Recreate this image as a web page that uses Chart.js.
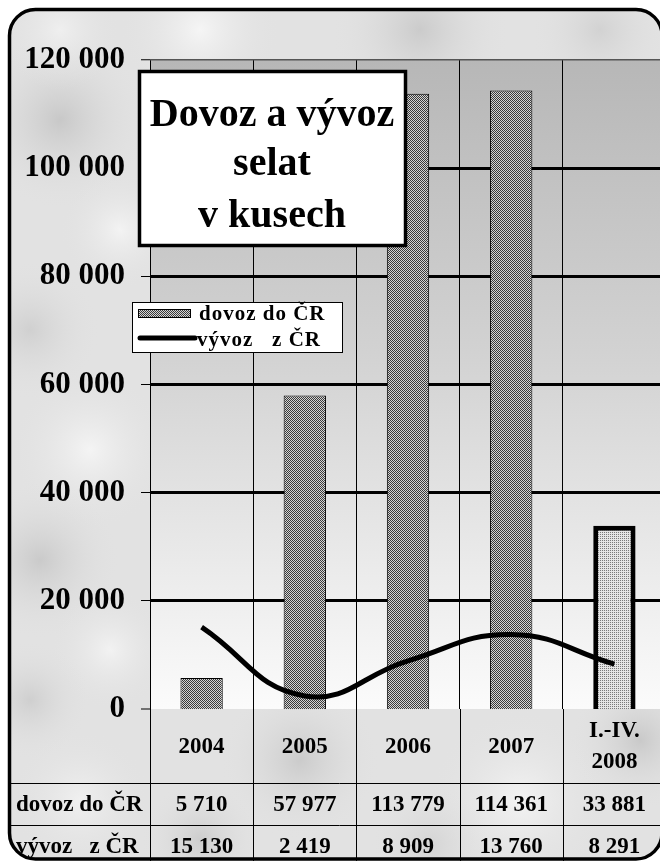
<!DOCTYPE html>
<html><head><meta charset="utf-8">
<script src="https://cdn.jsdelivr.net/npm/chart.js@4"></script>
<style>
html,body{margin:0;padding:0;overflow:hidden;background:#fff;width:660px;height:861px}
#wrap{position:absolute;left:0;top:0;width:670px;height:861px}
</style></head>
<body><div id="wrap"><canvas id="c" width="670" height="861"></canvas></div>
<script>
// ---- data ----
const categories = ['2004', '2005', '2006', '2007', ['I.-IV.', '2008']];
const dovoz = [5710, 57977, 113779, 114361, 33881];
const vyvoz = [15130, 2419, 8909, 13760, 8291];
const seriesNames = ['dovoz do ČR', 'vývoz   z ČR'];
const legendNames = ['dovoz do ČR', 'vývoz   z ČR'];
const titleLines = ['Dovoz a vývoz', 'selat', 'v kusech'];
const yMin = 0, yMax = 120000, yStep = 20000;

const fmt = n => String(n).replace(/\B(?=(\d{3})+(?!\d))/g, ' ');
const SERIF = "'Liberation Serif', 'Times New Roman', serif";

function makePattern(a, b, c, d) {
  const p = document.createElement('canvas'); p.width = 2; p.height = 2;
  const x = p.getContext('2d');
  x.fillStyle = a; x.fillRect(0, 0, 1, 1);
  x.fillStyle = b; x.fillRect(1, 0, 1, 1);
  x.fillStyle = c; x.fillRect(0, 1, 1, 1);
  x.fillStyle = d; x.fillRect(1, 1, 1, 1);
  return document.getElementById('c').getContext('2d').createPattern(p, 'repeat');
}
const patDark = makePattern('#3a3a3a', '#d4d4d4', '#d4d4d4', '#3a3a3a');
const patLight = makePattern('#7a7a7a', '#e2e2e2', '#e6e6e6', '#e6e6e6');

function roundRectPath(ctx, x0, y0, x1, y1, r) {
  ctx.beginPath();
  ctx.moveTo(x0 + r, y0);
  ctx.lineTo(x1 - r, y0); ctx.arcTo(x1, y0, x1, y0 + r, r);
  ctx.lineTo(x1, y1 - r); ctx.arcTo(x1, y1, x1 - r, y1, r);
  ctx.lineTo(x0 + r, y1); ctx.arcTo(x0, y1, x0, y1 - r, r);
  ctx.lineTo(x0, y0 + r); ctx.arcTo(x0, y0, x0 + r, y0, r);
  ctx.closePath();
}

// decorative marble blotches (x, y, radius, color)
const marble = [
  [60, 120, 90, '#c8c8c8'], [30, 330, 70, '#d0d0d0'], [90, 450, 80, '#f4f4f4'],
  [40, 560, 80, '#cacaca'], [110, 650, 60, '#f2f2f2'], [30, 700, 60, '#cfcfcf'],
  [200, 30, 80, '#f5f5f5'], [420, 30, 90, '#cbcbcb'], [600, 30, 70, '#d2d2d2'],
  [300, 760, 80, '#cbcbcb'], [520, 800, 90, '#f3f3f3'], [640, 740, 70, '#c9c9c9'],
  [80, 800, 70, '#f0f0f0'], [200, 840, 60, '#cdcdcd'], [430, 845, 60, '#d4d4d4'],
  [120, 230, 60, '#f3f3f3'], [60, 30, 60, '#efefef']
];

const bgPlugin = {
  id: 'bg',
  beforeDraw(chart) {
    const ctx = chart.ctx, a = chart.chartArea;
    ctx.save();
    ctx.fillStyle = '#fff';
    ctx.fillRect(0, 0, chart.width, chart.height);
    roundRectPath(ctx, 9.5, 9.5, 662, 859, 26);
    ctx.save();
    ctx.clip();
    ctx.fillStyle = '#e2e2e2';
    ctx.fillRect(0, 0, chart.width, chart.height);
    marble.forEach(([x, y, r, c]) => {
      const g = ctx.createRadialGradient(x, y, 0, x, y, r);
      g.addColorStop(0, c); g.addColorStop(1, 'rgba(226,226,226,0)');
      ctx.fillStyle = g; ctx.fillRect(x - r, y - r, 2 * r, 2 * r);
    });
    ctx.restore();
    roundRectPath(ctx, 9.5, 9.5, 662, 859, 26);
    ctx.lineWidth = 3.5; ctx.strokeStyle = '#000'; ctx.stroke();
    const g = ctx.createLinearGradient(0, a.top, 0, a.bottom);
    g.addColorStop(0, '#b7b7b7');
    g.addColorStop(0.45, '#d2d2d2');
    g.addColorStop(1, '#fbfbfb');
    ctx.fillStyle = g;
    ctx.fillRect(a.left, a.top, a.right - a.left, a.bottom - a.top);
    ctx.restore();
  }
};

const overlayPlugin = {
  id: 'overlay',
  afterDraw(chart) {
    const ctx = chart.ctx, a = chart.chartArea, xs = chart.scales.x;
    ctx.save();
    // ---- data table ----
    const half = (xs.getPixelForValue(1) - xs.getPixelForValue(0)) / 2;
    ctx.strokeStyle = '#000'; ctx.lineWidth = 1;
    ctx.beginPath();
    for (let i = 0; i <= categories.length; i++) {
      const x = Math.round(i < categories.length ? xs.getPixelForValue(i) - half : xs.getPixelForValue(i - 1) + half) + 0.5;
      ctx.moveTo(x, a.bottom); ctx.lineTo(x, 861);
    }
    ctx.moveTo(9, 783.5); ctx.lineTo(670, 783.5);
    ctx.moveTo(9, 825.5); ctx.lineTo(670, 825.5);
    ctx.stroke();

    ctx.fillStyle = '#000';
    ctx.textAlign = 'center'; ctx.textBaseline = 'alphabetic';
    ctx.font = 'bold 23px ' + SERIF;
    categories.forEach((c, i) => {
      const x = xs.getPixelForValue(i);
      if (Array.isArray(c)) {
        ctx.fillText(c[0], x, 737);
        ctx.fillText(c[1], x, 768);
      } else {
        ctx.fillText(c, x, 753);
      }
      ctx.fillText(fmt(dovoz[i]), x, 811);
      ctx.fillText(fmt(vyvoz[i]), x, 853);
    });
    ctx.textAlign = 'left';
    ctx.fillText(seriesNames[0], 16, 811);
    ctx.fillText(seriesNames[1], 16, 853);

    // ---- title box ----
    ctx.fillStyle = '#fff';
    ctx.fillRect(138, 70, 269, 177);
    ctx.lineWidth = 3.5; ctx.strokeStyle = '#000';
    ctx.strokeRect(139.5, 71.5, 266, 174);
    ctx.fillStyle = '#000';
    ctx.textAlign = 'center';
    ctx.font = 'bold 40px ' + SERIF;
    ctx.fillText(titleLines[0], 272, 126);
    ctx.fillText(titleLines[1], 272, 175);
    ctx.fillText(titleLines[2], 272, 227);

    // ---- legend ----
    ctx.fillStyle = '#fff';
    ctx.fillRect(132, 302, 211, 51);
    ctx.lineWidth = 1; ctx.strokeStyle = '#000';
    ctx.strokeRect(132.5, 302.5, 210, 50);
    ctx.fillStyle = patDark;
    ctx.fillRect(138, 309, 53, 9);
    ctx.strokeRect(138.5, 309.5, 52, 8);
    ctx.beginPath();
    ctx.lineWidth = 5; ctx.lineCap = 'round';
    ctx.moveTo(140, 338); ctx.lineTo(195, 338); ctx.stroke();
    ctx.fillStyle = '#000';
    ctx.textAlign = 'left';
    ctx.font = 'bold 21px ' + SERIF;
    ctx.letterSpacing = '1px';
    ctx.fillText(legendNames[0], 199, 320);
    ctx.fillText(legendNames[1], 197, 346);
    ctx.restore();
  }
};

new Chart(document.getElementById('c'), {
  data: {
    labels: categories,
    datasets: [
      {
        type: 'line', label: seriesNames[1], data: vyvoz, order: 0,
        borderColor: '#000', borderWidth: 5, tension: 0.45,
        pointRadius: 0, fill: false, borderCapStyle: 'butt'
      },
      {
        type: 'bar', label: seriesNames[0], data: dovoz, order: 1,
        backgroundColor: dovoz.map((v, i) => i === dovoz.length - 1 ? patLight : patDark),
        borderColor: '#000',
        borderWidth: dovoz.map((v, i) => i === dovoz.length - 1 ? 5 : 1),
        barPercentage: 0.41, categoryPercentage: 1
      }
    ]
  },
  options: {
    responsive: false, animation: false, devicePixelRatio: 1,
    layout: { padding: { top: 60, left: 0, right: 4, bottom: 152 } },
    plugins: { legend: { display: false }, tooltip: { enabled: false }, title: { display: false } },
    scales: {
      x: {
        offset: true,
        ticks: { display: false },
        border: { display: false },
        grid: { offset: true, color: '#000', lineWidth: 1, drawTicks: false },
        afterFit(s) { s.height = 0; }
      },
      y: {
        min: yMin, max: yMax,
        ticks: {
          stepSize: yStep, padding: 16, color: '#000',
          font: { family: SERIF, size: 31, weight: 'bold' },
          callback: v => fmt(v)
        },
        border: { display: false },
        grid: {
          color: c => (c.tick && c.tick.value === yMax) ? '#555' : '#000',
          lineWidth: c => !c.tick ? 1 : (c.tick.value === yMin ? 0 : (c.tick.value === yMax ? 1.5 : 3)),
          tickColor: '#000', tickLength: 9, tickWidth: 1, drawTicks: true
        },
        afterFit(s) { s.width = 150; }
      }
    }
  },
  plugins: [bgPlugin, overlayPlugin]
});
</script>
</body></html>
